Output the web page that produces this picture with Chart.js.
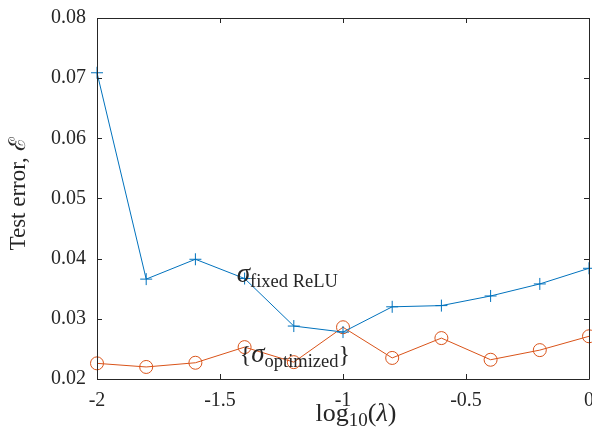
<!DOCTYPE html>
<html>
<head>
<meta charset="utf-8">
<script src="https://cdn.jsdelivr.net/npm/chart.js@4.4.0/dist/chart.umd.min.js"></script>
<style>
html,body{margin:0;padding:0;background:#fff;}
#wrap{width:592px;height:432px;}
</style>
</head>
<body>
<div id="wrap"><canvas id="c" width="592" height="432"></canvas></div>
<script>
const lambdaLog = [-2, -1.8, -1.6, -1.4, -1.2, -1, -0.8, -0.6, -0.4, -0.2, 0];
const errFixedReLU = [0.0709, 0.0366, 0.0399, 0.0367, 0.0288, 0.0278, 0.0320, 0.0322, 0.0338, 0.0358, 0.0384];
const errOptimized = [0.0226, 0.0220, 0.0227, 0.0253, 0.0228, 0.0286, 0.0235, 0.0268, 0.0232, 0.0248, 0.0271];
const xTicks = [-2, -1.5, -1, -0.5, 0];
const yTicks = [0.02, 0.03, 0.04, 0.05, 0.06, 0.07, 0.08];

const SERIF = "'Liberation Serif', 'Times New Roman', serif";
const AXC = '#262626';

const frame = {
  id: 'frame',
  afterDraw(chart) {
    const ctx = chart.ctx, a = chart.chartArea;
    const xs = chart.scales.x, ys = chart.scales.y;
    ctx.save();
    ctx.strokeStyle = AXC;
    ctx.lineWidth = 1;
    ctx.beginPath();
    ctx.rect(Math.round(a.left) + 0.5, Math.round(a.top) + 0.5,
             Math.round(a.right - a.left), Math.round(a.bottom - a.top));
    ctx.stroke();
    const L = 5;
    ctx.beginPath();
    xTicks.forEach(v => {
      const px = Math.round(xs.getPixelForValue(v)) + 0.5;
      ctx.moveTo(px, a.bottom); ctx.lineTo(px, a.bottom - L);
      ctx.moveTo(px, a.top); ctx.lineTo(px, a.top + L);
    });
    yTicks.forEach(v => {
      const py = Math.round(ys.getPixelForValue(v)) + 0.5;
      ctx.moveTo(a.left, py); ctx.lineTo(a.left + L, py);
      ctx.moveTo(a.right, py); ctx.lineTo(a.right - L, py);
    });
    ctx.stroke();

    ctx.fillStyle = AXC;
    // y title
    ctx.save();
    ctx.translate(19, 194);
    ctx.rotate(-Math.PI / 2);
    ctx.font = "23px " + SERIF;
    ctx.textAlign = 'center';
    ctx.textBaseline = 'middle';
    ctx.fillText('Test error, ℰ', 0, 0);
    ctx.restore();

    // x title: log_10(λ)
    drawParts(ctx, [
      {t: 'log', f: "26px " + SERIF, dy: 0},
      {t: '10', f: "19px " + SERIF, dy: 5},
      {t: '(', f: "26px " + SERIF, dy: 0},
      {t: 'λ', f: "italic 26px " + SERIF, dy: 0},
      {t: ')', f: "26px " + SERIF, dy: 0}
    ], 356, 421, 'center');

    // annotations (placed in data coordinates)
    const p1x = xs.getPixelForValue(-1.432), p1y = ys.getPixelForValue(0.0362);
    drawParts(ctx, [
      {t: 'σ', f: "italic 27px " + SERIF, dy: 0},
      {t: 'fixed ReLU', f: "18.5px " + SERIF, dy: 5}
    ], p1x, p1y, 'left');
    const p2x = xs.getPixelForValue(-1.42), p2y = ys.getPixelForValue(0.0228);
    drawParts(ctx, [
      {t: '{', f: "24px " + SERIF, dy: 0},
      {t: 'σ', f: "italic 27px " + SERIF, dy: 0},
      {t: 'optimized', f: "18.5px " + SERIF, dy: 5},
      {t: '}', f: "24px " + SERIF, dy: 0}
    ], p2x, p2y, 'left');
    ctx.restore();
  }
};

function drawParts(ctx, parts, x, y, align) {
  let w = 0;
  parts.forEach(p => { ctx.font = p.f; p.w = ctx.measureText(p.t).width; w += p.w; });
  let cx = align === 'center' ? x - w / 2 : x;
  ctx.textAlign = 'left';
  ctx.textBaseline = 'alphabetic';
  parts.forEach(p => { ctx.font = p.f; ctx.fillText(p.t, cx, y + p.dy); cx += p.w; });
}

new Chart(document.getElementById('c'), {
  type: 'line',
  data: {
    datasets: [
      {
        label: 'fixed ReLU',
        data: lambdaLog.map((x, i) => ({x, y: errFixedReLU[i]})),
        borderColor: '#0072BD',
        backgroundColor: '#0072BD',
        borderWidth: 1,
        pointStyle: 'cross',
        pointRadius: 6,
        pointBorderWidth: 1,
        pointBorderColor: '#0072BD',
        tension: 0,
        clip: false
      },
      {
        label: 'optimized',
        data: lambdaLog.map((x, i) => ({x, y: errOptimized[i]})),
        borderColor: '#D95319',
        backgroundColor: 'rgba(0,0,0,0)',
        borderWidth: 1,
        pointStyle: 'circle',
        pointRadius: 6.5,
        pointBorderWidth: 1,
        pointBorderColor: '#D95319',
        pointBackgroundColor: 'rgba(0,0,0,0)',
        tension: 0,
        clip: false
      }
    ]
  },
  options: {
    responsive: false,
    animation: false,
    devicePixelRatio: 1,
    layout: {autoPadding: false, padding: {top: 18, right: 3, left: 0, bottom: 0}},
    plugins: {legend: {display: false}, tooltip: {enabled: false}},
    scales: {
      x: {
        type: 'linear',
        min: -2, max: 0,
        afterFit(s) { s.height = 53; s.paddingLeft = 0; s.paddingRight = 0; s.paddingTop = 0; s.paddingBottom = 0; },
        afterBuildTicks(s) { s.ticks = xTicks.map(v => ({value: v})); },
        grid: {display: false, drawTicks: false},
        border: {display: false},
        ticks: {
          color: AXC, padding: 10, maxRotation: 0,
          font: {family: SERIF, size: 20},
          callback: v => String(v)
        }
      },
      y: {
        type: 'linear',
        min: 0.02, max: 0.08,
        afterFit(s) { s.width = 97; s.paddingLeft = 0; s.paddingRight = 0; s.paddingTop = 0; s.paddingBottom = 0; },
        afterBuildTicks(s) { s.ticks = yTicks.map(v => ({value: v})); },
        grid: {display: false, drawTicks: false},
        border: {display: false},
        ticks: {
          color: AXC, padding: 11,
          font: {family: SERIF, size: 20},
          callback: v => v.toFixed(2)
        }
      }
    }
  },
  plugins: [frame]
});
</script>
</body>
</html>
